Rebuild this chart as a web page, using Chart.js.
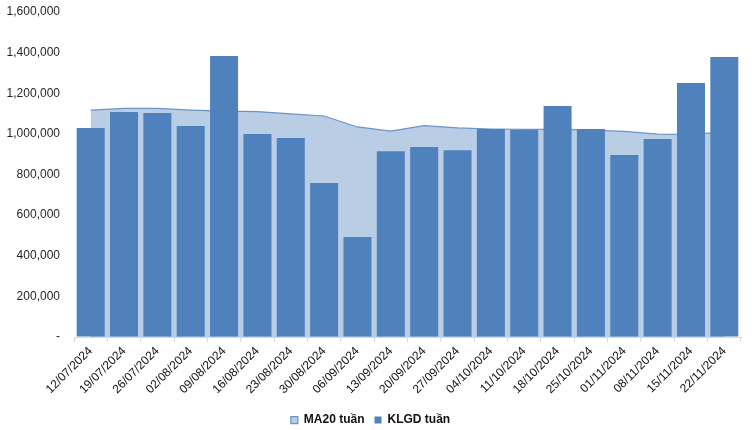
<!DOCTYPE html>
<html>
<head>
<meta charset="utf-8">
<script src="https://cdn.jsdelivr.net/npm/chart.js@4.4.1/dist/chart.umd.min.js"></script>
<style>
  html, body { margin: 0; padding: 0; background: #fff; }
  #wrap { width: 755px; height: 430px; }
</style>
</head>
<body>
<div id="wrap"><canvas id="volChart" width="755" height="430"></canvas></div>
<script>
// weekly dates on the x axis
var weeks = ['12/07/2024', '19/07/2024', '26/07/2024', '02/08/2024', '09/08/2024',
    '16/08/2024', '23/08/2024', '30/08/2024', '06/09/2024', '13/09/2024',
    '20/09/2024', '27/09/2024', '04/10/2024', '11/10/2024', '18/10/2024',
    '25/10/2024', '01/11/2024', '08/11/2024', '15/11/2024', '22/11/2024'];

// KLGD tuần (bars)
var klgdWeek = [1029000, 1108000, 1103000, 1039000, 1383000,
    999000, 980000, 758000, 492000, 915000,
    935000, 920000, 1024000, 1019000, 1137000,
    1024000, 896000, 975000, 1250000, 1378000];

// MA20 tuần (area)
var ma20Week = [1117000, 1125000, 1125000, 1117000, 1112000,
    1110000, 1098000, 1088000, 1034000, 1014000,
    1041000, 1029000, 1024000, 1022000, 1022000,
    1019000, 1012000, 999000, 997000, 1009000];

var yMax = 1600000;
var yStep = 200000;

var fontFamily = "'Liberation Sans', Arial, sans-serif";
Chart.defaults.font.family = fontFamily;
Chart.defaults.color = '#222';

var ctx = document.getElementById('volChart').getContext('2d');
window.volChart = new Chart(ctx, {
    data: {
        labels: weeks,
        datasets: [
            {
                type: 'line',
                label: 'MA20 tuần',
                data: ma20Week,
                fill: 'origin',
                backgroundColor: '#B9CDE5',
                borderColor: '#6C93C9',
                borderWidth: 1.25,
                pointRadius: 0,
                tension: 0,
                order: 2
            },
            {
                type: 'bar',
                label: 'KLGD tuần',
                data: klgdWeek,
                backgroundColor: '#4F81BD',
                borderWidth: 0,
                barPercentage: 0.84,
                categoryPercentage: 1.0,
                order: 1
            }
        ]
    },
    options: {
        responsive: false,
        animation: false,
        layout: {
            padding: { left: 0, right: 14, top: 12, bottom: -6 }
        },
        plugins: {
            tooltip: { enabled: false },
            legend: {
                position: 'bottom',
                labels: {
                    boxWidth: 7,
                    boxHeight: 7,
                    padding: 10,
                    color: '#111',
                    font: { size: 12, weight: 'bold' },
                    sort: function(a, b) { return a.datasetIndex - b.datasetIndex; }
                }
            }
        },
        scales: {
            x: {
                offset: true,
                grid: {
                    display: true,
                    drawOnChartArea: false,
                    drawTicks: true,
                    tickLength: 5,
                    offset: true,
                    color: '#D9D9D9'
                },
                border: { display: true, color: '#D9D9D9' },
                ticks: {
                    minRotation: 45,
                    maxRotation: 45,
                    autoSkip: false,
                    padding: 2,
                    color: '#111',
                    font: { size: 12 }
                },
                afterFit: function(scale) { scale.height = 67; }
            },
            y: {
                min: 0,
                max: yMax,
                grid: {
                    display: true,
                    drawOnChartArea: false,
                    drawTicks: true,
                    tickLength: 12,
                    tickColor: 'rgba(0,0,0,0)'
                },
                border: { display: false },
                ticks: {
                    stepSize: yStep,
                    padding: 2,
                    color: '#262626',
                    font: { size: 12 },
                    callback: function(value) {
                        return value === 0 ? '-' : value.toLocaleString('en-US');
                    }
                },
                afterFit: function(scale) { scale.width = 74; }
            }
        }
    }
});
</script>
</body>
</html>
